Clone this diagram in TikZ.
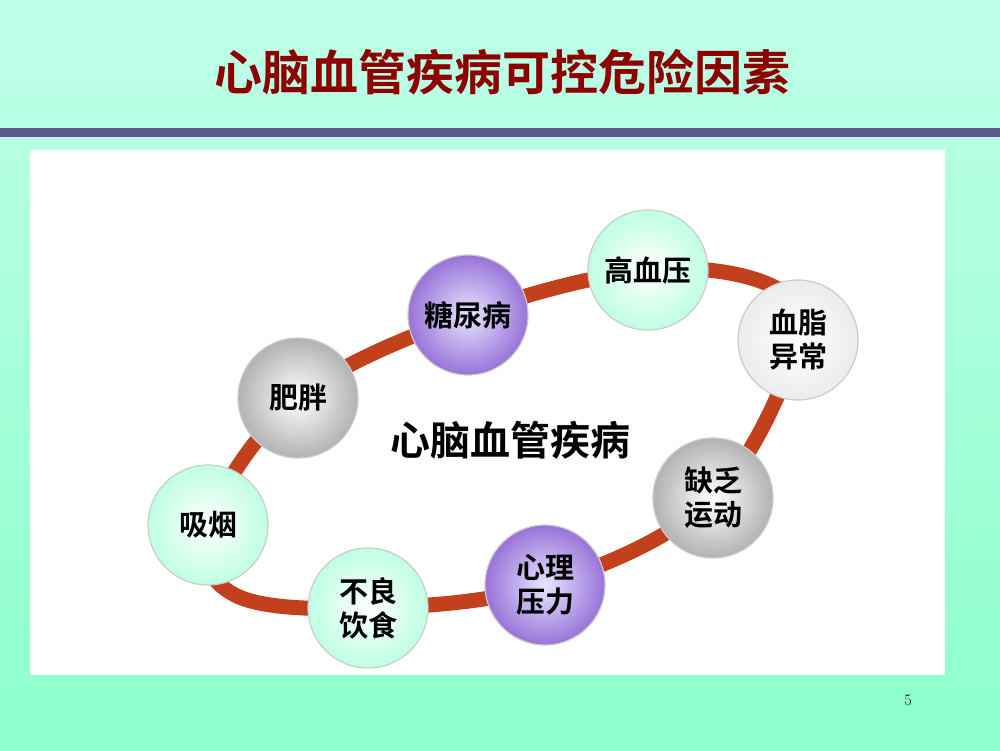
\documentclass[tikz,border=0pt]{standalone}
\usepackage{fontspec}
\newfontfamily\cjk{Noto Sans CJK SC}[BoldFont={Noto Sans CJK SC Bold}]
\definecolor{loop}{HTML}{C2401C}
\begin{document}
\begin{tikzpicture}[x=1pt,y=-1pt,
  bub/.style={circle,minimum size=120pt,inner sep=0pt,draw=gray!40,line width=1.2pt,font=\cjk\bfseries\fontsize{29}{34}\selectfont,align=center},
  mint/.style={bub,inner color=white,outer color=green!45!cyan!25},
  purp/.style={bub,inner color=blue!10,outer color=blue!45!violet!55},
  grey/.style={bub,inner color=white,outer color=gray!60},
  whit/.style={bub,inner color=white,outer color=gray!15}]
\useasboundingbox (0,0) rectangle (1000,750);
\shade[top color=green!35!cyan!25,bottom color=green!45!cyan!45] (0,0) rectangle (1000,750);
\fill[blue!30!black!65] (0,128) rectangle (1000,137);
\node[font=\cjk\bfseries\fontsize{48}{52}\selectfont,text=red!55!black] (title) at (502,72) {心脑血管疾病可控危险因素};
\fill[white] (30,150) rectangle (945,675);
\node[font=\fontsize{16}{18}\selectfont] (pg) at (908,700) {5};
\draw[line width=15pt,color=loop,line cap=round]
  plot[smooth cycle,tension=0.6] coordinates {(208,525) (298,398) (468,315) (648,270) (770,285) (798,340) (713,498) (545,585) (368,608) (235,595)};
\node[font=\cjk\bfseries\fontsize{40}{44}\selectfont] (c) at (510,440) {心脑血管疾病};
\node[mint] (a1) at (648,270) {高血压};
\node[purp] (a2) at (468,315) {糖尿病};
\node[whit] (a3) at (798,340) {血脂\\异常};
\node[grey] (a4) at (298,398) {肥胖};
\node[mint] (a5) at (208,525) {吸烟};
\node[mint] (a6) at (368,608) {不良\\饮食};
\node[purp] (a7) at (545,585) {心理\\压力};
\node[grey] (a8) at (713,498) {缺乏\\运动};
\end{tikzpicture}
\end{document}
